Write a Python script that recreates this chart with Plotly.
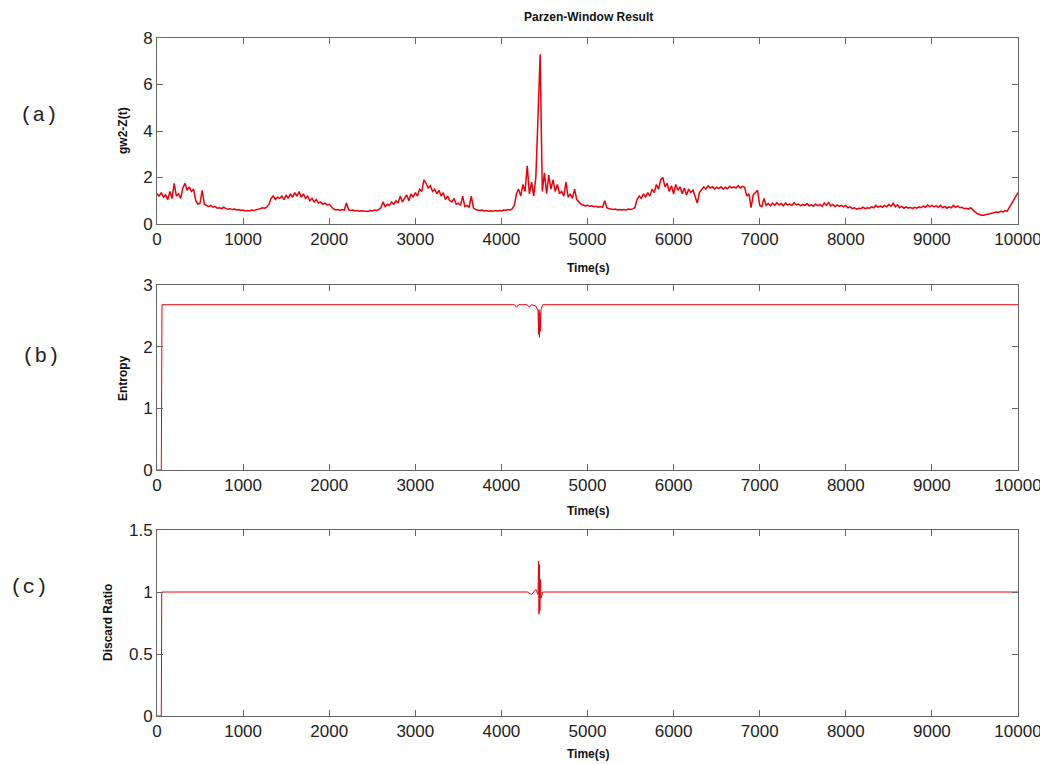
import plotly.graph_objects as go

W, H = 1048, 764
OFF = 8                      # page body margin
FW, FH = W, H

# ---------------- data ----------------
# panel (a): gw2-Z(t), sampled every 25 s from 0 to 10000
t_step = 25
gw2 = [
    # 0 - 975
    1.30, 1.20, 1.35, 1.15, 1.25, 1.05, 1.40, 1.10, 1.75, 1.20, 1.30, 1.10, 1.55, 1.75, 1.45, 1.60, 1.40, 1.50, 1.00, 0.85,
    0.90, 1.45, 0.85, 0.80, 0.75, 0.80, 0.72, 0.75, 0.68, 0.70, 0.66, 0.72, 0.66, 0.64, 0.66, 0.62, 0.64, 0.60, 0.62, 0.58,
    # 1000 - 1975
    0.60, 0.56, 0.58, 0.56, 0.60, 0.58, 0.62, 0.64, 0.66, 0.70, 0.68, 0.72, 0.85, 1.10, 1.20, 1.05, 1.15, 1.10, 1.20, 1.05,
    1.25, 1.10, 1.30, 1.15, 1.35, 1.20, 1.40, 1.15, 1.30, 1.10, 1.20, 1.00, 1.10, 0.95, 1.05, 0.90, 0.95, 0.85, 0.90, 0.82,
    # 2000 - 2975
    0.85, 0.75, 0.65, 0.60, 0.62, 0.58, 0.62, 0.60, 0.90, 0.62, 0.58, 0.60, 0.56, 0.58, 0.55, 0.57, 0.55, 0.56, 0.54, 0.58,
    0.56, 0.60, 0.58, 0.62, 0.70, 0.95, 0.75, 0.85, 0.80, 0.95, 0.85, 1.00, 0.90, 1.20, 0.95, 1.10, 1.25, 1.00, 1.30, 1.15,
    # 3000 - 3975
    1.35, 1.20, 1.50, 1.40, 1.90, 1.75, 1.55, 1.65, 1.40, 1.50, 1.30, 1.45, 1.20, 1.35, 1.05, 1.20, 1.00, 0.95, 1.10, 0.85,
    0.90, 0.80, 1.20, 0.75, 0.80, 0.72, 1.20, 0.70, 0.62, 0.60, 0.58, 0.60, 0.56, 0.58, 0.55, 0.57, 0.55, 0.58, 0.56, 0.58,
    # 4000 - 4975
    0.56, 0.60, 0.58, 0.62, 0.60, 0.65, 0.80, 1.30, 1.50, 1.20, 1.70, 1.40, 2.50, 1.30, 1.80, 1.20, 2.00, 4.60, 7.30, 1.40,
    2.20, 1.30, 2.10, 1.50, 1.90, 1.40, 1.70, 1.30, 1.40, 1.20, 1.80, 1.15, 1.30, 1.10, 1.50, 1.05, 0.95, 0.85, 0.82, 0.78,
    # 5000 - 5975
    0.80, 0.76, 0.78, 0.74, 0.76, 0.72, 0.75, 0.72, 1.00, 0.70, 0.66, 0.64, 0.62, 0.64, 0.60, 0.62, 0.60, 0.62, 0.60, 0.64,
    0.62, 0.65, 0.70, 1.05, 1.20, 1.10, 1.30, 1.15, 1.35, 1.20, 1.50, 1.35, 1.70, 1.50, 1.90, 2.00, 1.60, 1.75, 1.40, 1.65,
    # 6000 - 6975
    1.30, 1.70, 1.45, 1.60, 1.30, 1.55, 1.25, 1.50, 1.35, 1.45, 1.20, 0.90, 1.35, 1.50, 1.60, 1.50, 1.65, 1.55, 1.60, 1.50,
    1.58, 1.52, 1.60, 1.50, 1.58, 1.52, 1.62, 1.55, 1.60, 1.55, 1.65, 1.55, 1.62, 1.58, 1.20, 1.30, 0.70, 1.25, 1.35, 1.45,
    # 7000 - 7975
    0.80, 0.75, 1.10, 0.80, 0.88, 0.78, 0.90, 0.80, 0.92, 0.82, 0.88, 0.78, 0.90, 0.82, 0.86, 0.80, 0.92, 0.82, 0.86, 0.78,
    0.84, 0.80, 0.88, 0.78, 0.82, 0.76, 0.86, 0.78, 0.84, 0.76, 0.90, 0.80, 0.92, 0.78, 0.84, 0.74, 0.82, 0.76, 0.80, 0.74,
    # 8000 - 8975
    0.80, 0.70, 0.74, 0.66, 0.70, 0.64, 0.68, 0.66, 0.72, 0.66, 0.70, 0.68, 0.74, 0.70, 0.80, 0.72, 0.78, 0.72, 0.80, 0.74,
    0.85, 0.76, 0.90, 0.74, 0.82, 0.70, 0.76, 0.68, 0.74, 0.68, 0.72, 0.66, 0.72, 0.68, 0.74, 0.70, 0.78, 0.72, 0.82, 0.74,
    # 9000 - 10000
    0.80, 0.74, 0.78, 0.72, 0.80, 0.70, 0.76, 0.68, 0.74, 0.70, 0.80, 0.72, 0.78, 0.70, 0.72, 0.66, 0.68, 0.64, 0.70, 0.60,
    0.52, 0.45, 0.40, 0.38, 0.38, 0.40, 0.42, 0.45, 0.48, 0.50, 0.52, 0.50, 0.55, 0.52, 0.58, 0.55, 0.70, 0.85, 1.00, 1.20,
    1.35,
]
t_a = [i * t_step for i in range(len(gw2))]

# panel (b): entropy
t_b = [0, 50, 58, 4150, 4175, 4200, 4300, 4325, 4350, 4400, 4425, 4432, 4437, 4442, 4447, 4452, 4460, 4480, 10000]
entropy = [0, 0, 2.68, 2.68, 2.64, 2.68, 2.68, 2.64, 2.68, 2.66, 2.58, 2.20, 2.60, 2.15, 2.55, 2.25, 2.60, 2.68, 2.68]

# panel (c): discard ratio
t_c = [0, 50, 55, 4300, 4350, 4375, 4400, 4425, 4432, 4437, 4442, 4447, 4452, 4460, 4480, 10000]
discard = [0, 0, 1.0, 1.0, 0.98, 1.0, 1.02, 0.98, 1.25, 0.82, 1.22, 0.85, 1.10, 0.95, 1.0, 1.0]

x_ticks = [0, 1000, 2000, 3000, 4000, 5000, 6000, 7000, 8000, 9000, 10000]
y_ticks_a = [0, 2, 4, 6, 8]
y_ticks_b = [0, 1, 2, 3]
y_ticks_c = [0, 0.5, 1, 1.5]
y_ticktext_c = ["0", "0.5", "1", "1.5"]

title = "Parzen-Window Result"
xlabel = "Time(s)"
ylabels = ["gw2-Z(t)", "Entropy", "Discard Ratio"]
panel_tags = ["(a)", "(b)", "(c)"]

# ---------------- layout helpers (screen pixels -> paper) ----------------
def px(x):
    return (x - OFF) / FW

def py(y):
    return 1 - (y - OFF) / FH

x_dom = [px(157), px(1018)]
panels = [(38, 224), (285, 470), (530, 716)]

RED = "#e8000b"
fig = go.Figure()
fig.add_trace(go.Scatter(x=t_a, y=gw2, mode="lines", line=dict(color=RED, width=1.5),
                         xaxis="x", yaxis="y", showlegend=False))
fig.add_trace(go.Scatter(x=t_b, y=entropy, mode="lines", line=dict(color=RED, width=1.0),
                         xaxis="x2", yaxis="y2", showlegend=False))
fig.add_trace(go.Scatter(x=t_c, y=discard, mode="lines", line=dict(color=RED, width=1.0),
                         xaxis="x3", yaxis="y3", showlegend=False))

tick_font = dict(family="Liberation Sans, Arial, sans-serif", size=17, color="#222")
axis_common = dict(showline=True, linecolor="#666", linewidth=1, mirror="allticks",
                   ticks="inside", ticklen=6, tickcolor="#666", showgrid=False,
                   zeroline=False, tickfont=tick_font, automargin=False,
                   ticklabeloverflow="allow")

layout = dict(width=FW, height=FH, margin=dict(l=0, r=0, t=0, b=0, autoexpand=False),
              paper_bgcolor="white", plot_bgcolor="white")

yranges = [[0, 8], [0, 3], [0, 1.5]]
yticks = [(y_ticks_a, [str(v) for v in y_ticks_a]),
          (y_ticks_b, [str(v) for v in y_ticks_b]),
          (y_ticks_c, y_ticktext_c)]
for i, (top, bot) in enumerate(panels):
    sfx = "" if i == 0 else str(i + 1)
    layout["xaxis" + sfx] = dict(domain=x_dom, range=[0, 10000], tickvals=x_ticks,
                                 ticktext=[str(v) for v in x_ticks],
                                 anchor="y" + sfx, **axis_common)
    layout["yaxis" + sfx] = dict(domain=[py(bot), py(top)], range=yranges[i],
                                 tickvals=yticks[i][0], ticktext=yticks[i][1],
                                 anchor="x" + sfx, **axis_common)
fig.update_layout(**layout)

lab_font = dict(family="Liberation Sans, Arial, sans-serif", size=12, color="#111")
ann = []
ann.append(dict(x=px(588), y=py(17), text="<b>" + title + "</b>", font=lab_font))
for yy in [268, 511, 754]:
    ann.append(dict(x=px(588), y=py(yy), text="<b>" + xlabel + "</b>", font=lab_font))
for (xx, yy), lab in zip([(123, 131), (123, 378), (108, 623)], ylabels):
    ann.append(dict(x=px(xx), y=py(yy), text="<b>" + lab + "</b>", textangle=-90, font=lab_font))
tag_font = dict(family="Liberation Mono, Courier New, monospace", size=21, color="#222")
for (xx, yy), tag in zip([(39, 116), (41, 356), (29, 587)], panel_tags):
    ann.append(dict(x=px(xx), y=py(yy), text=tag, font=tag_font))
for a in ann:
    a.update(xref="paper", yref="paper", showarrow=False, xanchor="center", yanchor="middle")
fig.update_layout(annotations=ann)

fig.write_html("out.html")
